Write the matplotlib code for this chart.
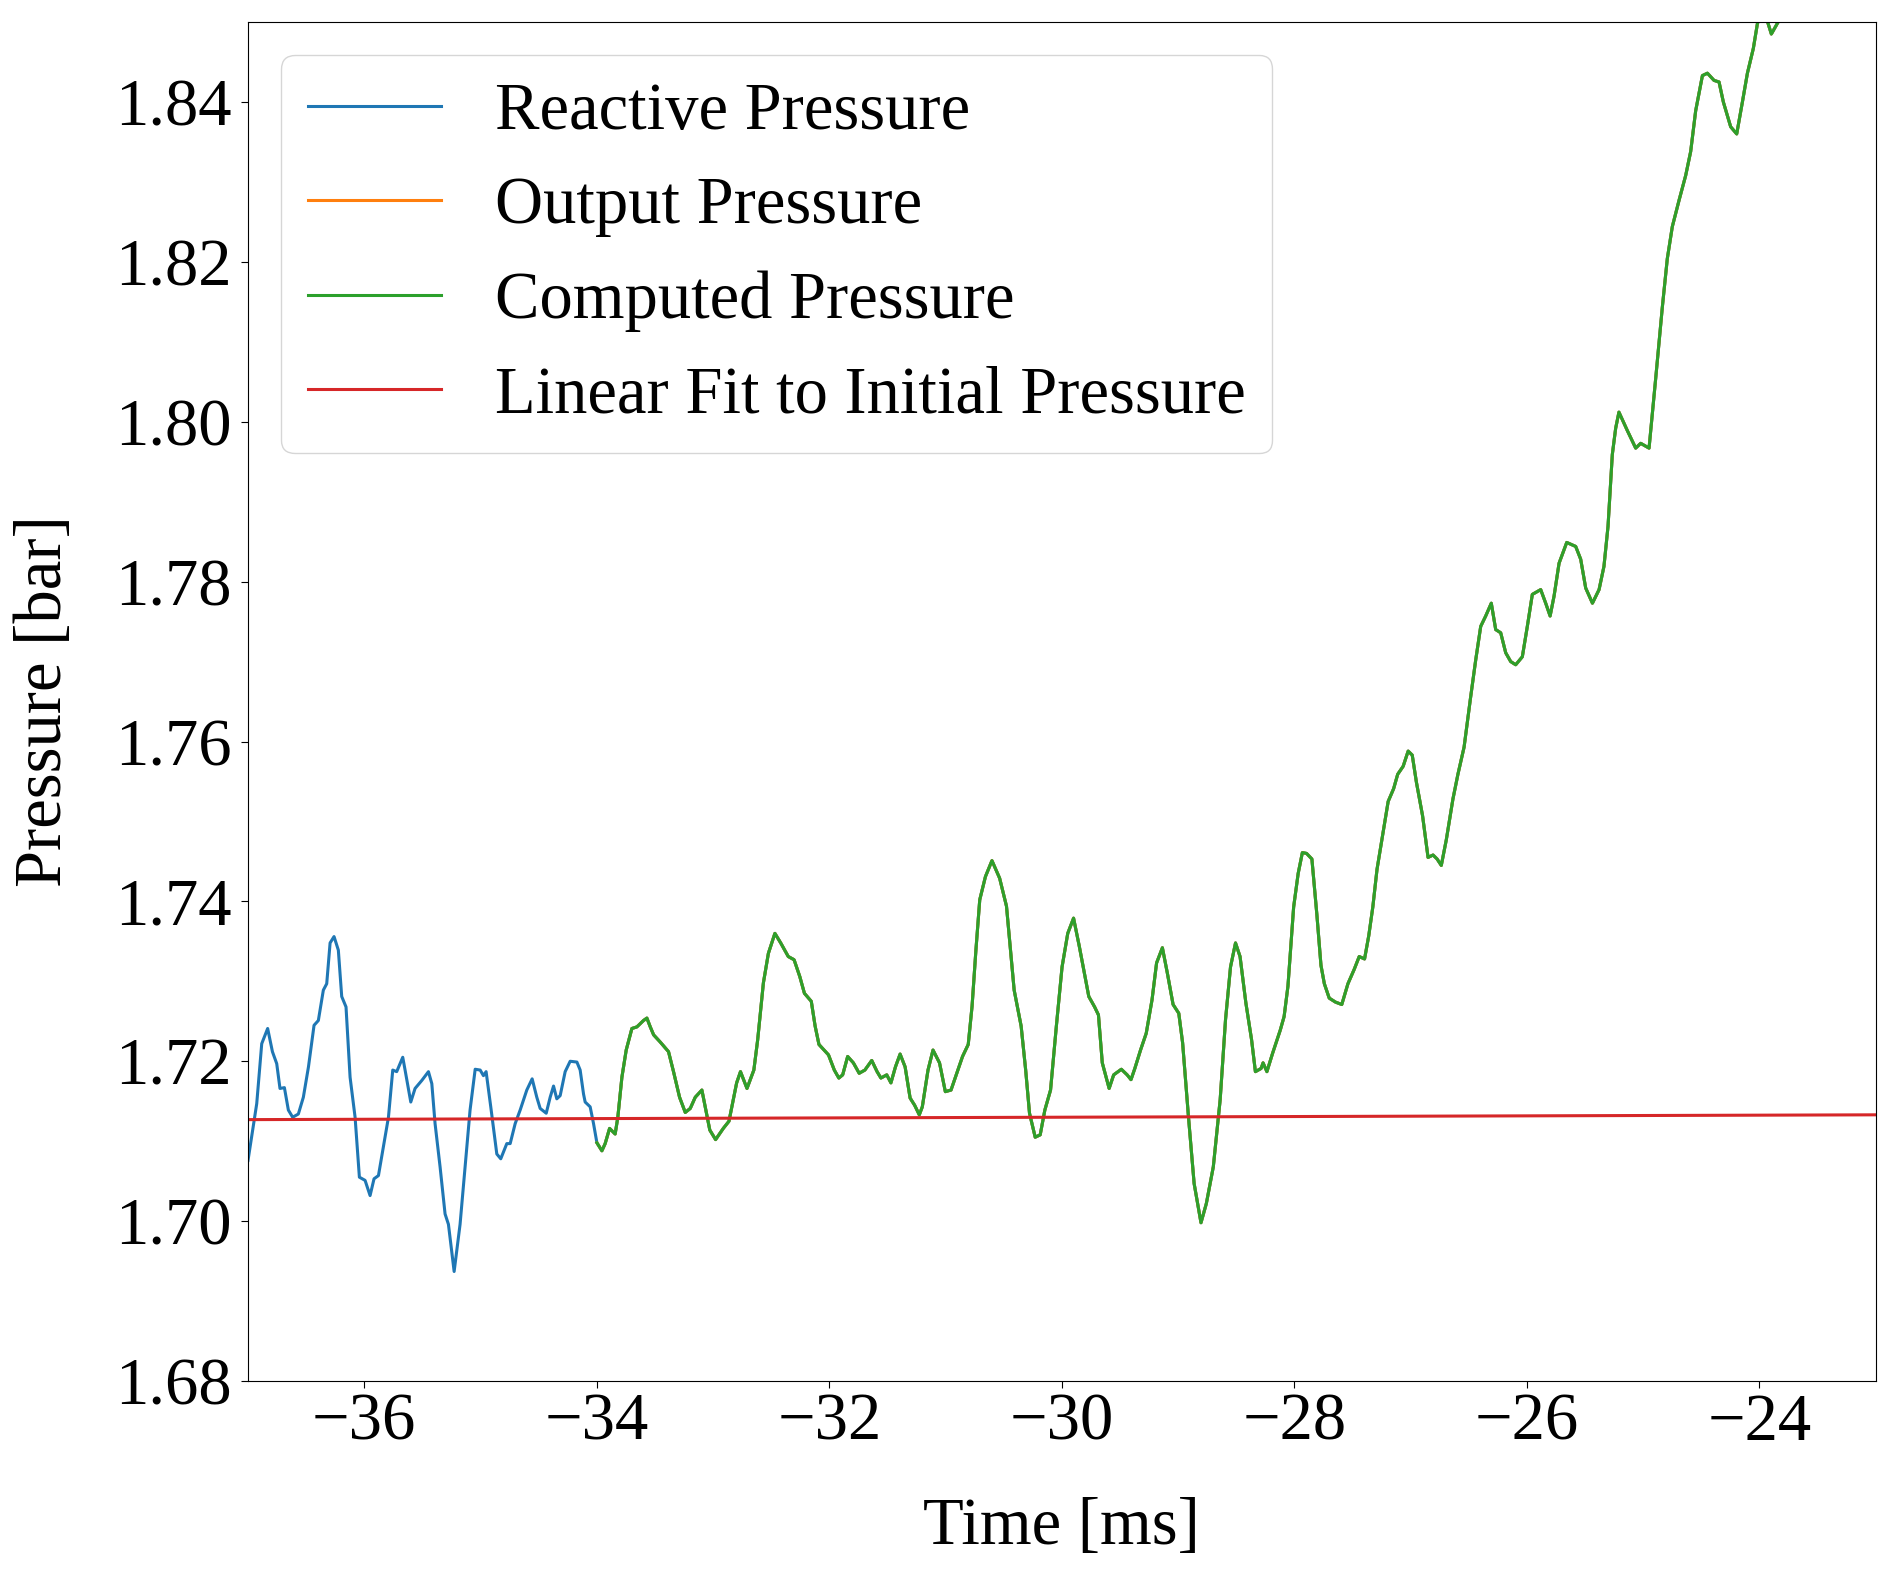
import numpy as np
import matplotlib
matplotlib.use("Agg")
import matplotlib.pyplot as plt

# === 数据 ===
time_ms = [
    -37.000, -36.925, -36.882, -36.831, -36.790, -36.753, -36.725, -36.687, -36.653, -36.616,
    -36.567, -36.524, -36.480, -36.432, -36.395, -36.352, -36.323, -36.294, -36.260, -36.223,
    -36.194, -36.157, -36.122, -36.079, -36.042, -35.993, -35.950, -35.916, -35.878, -35.821,
    -35.792, -35.755, -35.721, -35.669, -35.649, -35.600, -35.563, -35.505, -35.448, -35.419,
    -35.391, -35.348, -35.305, -35.276, -35.227, -35.176, -35.133, -35.090, -35.046, -35.003,
    -34.975, -34.952, -34.912, -34.860, -34.826, -34.774, -34.745, -34.702, -34.659, -34.602,
    -34.556, -34.516, -34.487, -34.435, -34.401, -34.372, -34.344, -34.315, -34.272, -34.229,
    -34.171, -34.143, -34.114, -34.100, -34.057, -34.028, -33.999, -33.956, -33.928, -33.890,
    -33.842, -33.819, -33.784, -33.747, -33.698, -33.655, -33.598, -33.569, -33.540, -33.511,
    -33.454, -33.383, -33.340, -33.288, -33.239, -33.196, -33.153, -33.096, -33.028, -32.978,
    -32.912, -32.863, -32.797, -32.764, -32.708, -32.649, -32.616, -32.567, -32.524, -32.468,
    -32.418, -32.353, -32.303, -32.254, -32.214, -32.155, -32.122, -32.089, -32.007, -31.957,
    -31.918, -31.885, -31.842, -31.793, -31.743, -31.694, -31.635, -31.589, -31.556, -31.506,
    -31.470, -31.431, -31.391, -31.348, -31.305, -31.266, -31.226, -31.200, -31.151, -31.108,
    -31.052, -31.002, -30.953, -30.904, -30.854, -30.805, -30.772, -30.739, -30.706, -30.657,
    -30.601, -30.535, -30.476, -30.410, -30.350, -30.311, -30.278, -30.229, -30.186, -30.146,
    -30.097, -30.047, -29.998, -29.949, -29.899, -29.850, -29.800, -29.768, -29.718, -29.685,
    -29.652, -29.593, -29.554, -29.488, -29.438, -29.405, -29.372, -29.323, -29.274, -29.224,
    -29.185, -29.135, -29.092, -29.043, -28.994, -28.961, -28.911, -28.862, -28.803, -28.757,
    -28.697, -28.638, -28.592, -28.549, -28.506, -28.467, -28.417, -28.368, -28.335, -28.286,
    -28.269, -28.236, -28.187, -28.121, -28.088, -28.055, -28.006, -27.967, -27.931, -27.895,
    -27.849, -27.806, -27.771, -27.742, -27.700, -27.646, -27.592, -27.539, -27.485, -27.442,
    -27.396, -27.360, -27.325, -27.289, -27.243, -27.193, -27.146, -27.111, -27.064, -27.021,
    -26.986, -26.950, -26.897, -26.850, -26.807, -26.772, -26.736, -26.693, -26.636, -26.593,
    -26.540, -26.486, -26.440, -26.397, -26.354, -26.306, -26.268, -26.225, -26.182, -26.139,
    -26.096, -26.039, -25.996, -25.953, -25.881, -25.838, -25.800, -25.766, -25.723, -25.657,
    -25.580, -25.537, -25.494, -25.436, -25.379, -25.337, -25.302, -25.265, -25.236, -25.208,
    -25.136, -25.064, -25.021, -24.949, -24.892, -24.835, -24.792, -24.749, -24.691, -24.634,
    -24.591, -24.548, -24.490, -24.447, -24.390, -24.347, -24.310, -24.247, -24.195, -24.146,
    -24.103, -24.052, -24.017, -23.988, -23.931, -23.897, -23.831, -23.780,
]

reactive_bar = [
    1.7076, 1.7147, 1.7222, 1.7241, 1.7212, 1.7197, 1.7166, 1.7167, 1.7139, 1.7130,
    1.7134, 1.7155, 1.7193, 1.7245, 1.7251, 1.7289, 1.7297, 1.7348, 1.7356, 1.7339,
    1.7281, 1.7268, 1.7180, 1.7130, 1.7055, 1.7051, 1.7032, 1.7053, 1.7057, 1.7105,
    1.7130, 1.7189, 1.7187, 1.7205, 1.7189, 1.7149, 1.7166, 1.7176, 1.7187, 1.7172,
    1.7122, 1.7068, 1.7009, 1.6996, 1.6937, 1.6996, 1.7068, 1.7139, 1.7190, 1.7189,
    1.7182, 1.7187, 1.7143, 1.7084, 1.7078, 1.7097, 1.7097, 1.7122, 1.7139, 1.7164,
    1.7178, 1.7155, 1.7141, 1.7135, 1.7155, 1.7169, 1.7153, 1.7157, 1.7187, 1.7200,
    1.7199, 1.7189, 1.7159, 1.7149, 1.7143, 1.7122, 1.7098, 1.7088, 1.7097, 1.7116,
    1.7109, 1.7130, 1.7180, 1.7214, 1.7241, 1.7243, 1.7251, 1.7254, 1.7243, 1.7233,
    1.7224, 1.7212, 1.7187, 1.7155, 1.7136, 1.7141, 1.7155, 1.7164, 1.7114, 1.7102,
    1.7116, 1.7125, 1.7173, 1.7187, 1.7166, 1.7189, 1.7227, 1.7298, 1.7335, 1.7360,
    1.7348, 1.7331, 1.7327, 1.7306, 1.7285, 1.7275, 1.7244, 1.7221, 1.7208, 1.7189,
    1.7179, 1.7183, 1.7206, 1.7198, 1.7185, 1.7189, 1.7201, 1.7187, 1.7179, 1.7183,
    1.7173, 1.7193, 1.7209, 1.7193, 1.7154, 1.7145, 1.7133, 1.7143, 1.7189, 1.7214,
    1.7198, 1.7162, 1.7164, 1.7185, 1.7206, 1.7221, 1.7269, 1.7339, 1.7402, 1.7431,
    1.7451, 1.7429, 1.7394, 1.7289, 1.7244, 1.7189, 1.7135, 1.7105, 1.7108, 1.7139,
    1.7164, 1.7244, 1.7318, 1.7360, 1.7379, 1.7344, 1.7306, 1.7281, 1.7268, 1.7258,
    1.7198, 1.7166, 1.7183, 1.7190, 1.7183, 1.7177, 1.7191, 1.7214, 1.7235, 1.7277,
    1.7323, 1.7342, 1.7310, 1.7271, 1.7260, 1.7223, 1.7131, 1.7047, 1.6998, 1.7022,
    1.7068, 1.7152, 1.7252, 1.7318, 1.7348, 1.7331, 1.7273, 1.7227, 1.7187, 1.7191,
    1.7198, 1.7187, 1.7210, 1.7239, 1.7256, 1.7294, 1.7393, 1.7435, 1.7461, 1.7460,
    1.7453, 1.7383, 1.7320, 1.7297, 1.7279, 1.7274, 1.7271, 1.7297, 1.7315, 1.7331,
    1.7328, 1.7357, 1.7393, 1.7440, 1.7481, 1.7525, 1.7541, 1.7559, 1.7569, 1.7588,
    1.7583, 1.7549, 1.7507, 1.7455, 1.7458, 1.7453, 1.7445, 1.7477, 1.7528, 1.7559,
    1.7593, 1.7653, 1.7702, 1.7744, 1.7757, 1.7773, 1.7740, 1.7736, 1.7711, 1.7700,
    1.7696, 1.7706, 1.7744, 1.7784, 1.7790, 1.7773, 1.7757, 1.7782, 1.7823, 1.7849,
    1.7844, 1.7828, 1.7792, 1.7773, 1.7790, 1.7819, 1.7869, 1.7959, 1.7992, 1.8012,
    1.7989, 1.7967, 1.7973, 1.7967, 1.8054, 1.8143, 1.8204, 1.8244, 1.8277, 1.8308,
    1.8338, 1.8389, 1.8433, 1.8436, 1.8427, 1.8425, 1.8400, 1.8369, 1.8360, 1.8400,
    1.8436, 1.8467, 1.8498, 1.8510, 1.8501, 1.8485, 1.8502, 1.8540,
]

computed_start = -34.0  # 绿线起点
fit_time = [-37.0, -23.0]
fit_bar = [1.7127, 1.7133]

t = np.array(time_ms)
p = np.array(reactive_bar)
sel = t >= computed_start

plt.rcParams['font.family'] = ['Liberation Serif', 'DejaVu Serif']
plt.rcParams['font.size'] = 48

fig = plt.figure(figsize=(18.99, 15.74), dpi=100)
ax = fig.add_axes([0.1306, 0.1226, 0.8571, 0.8634])

lw = 2.2
ax.plot(t, p, color='C0', lw=lw, label='Reactive Pressure')
ax.plot(t[sel], p[sel], color='C1', lw=lw, label='Output Pressure')
ax.plot(t[sel], p[sel], color='C2', lw=lw, label='Computed Pressure')
ax.plot(fit_time, fit_bar, color='C3', lw=lw, label='Linear Fit to Initial Pressure')

ax.set_xlim(-37, -23)
ax.set_ylim(1.68, 1.85)
ax.set_xticks([-36, -34, -32, -30, -28, -26, -24])
ax.set_yticks([1.68, 1.70, 1.72, 1.74, 1.76, 1.78, 1.80, 1.82, 1.84])
ax.tick_params(length=5)
ax.tick_params(axis='y', pad=6.5)

ax.set_xlabel('Time [ms]', labelpad=31)
ax.set_ylabel('Pressure [bar]', labelpad=29)
ax.legend(loc='upper left')

fig.savefig('out.png', dpi=100)
